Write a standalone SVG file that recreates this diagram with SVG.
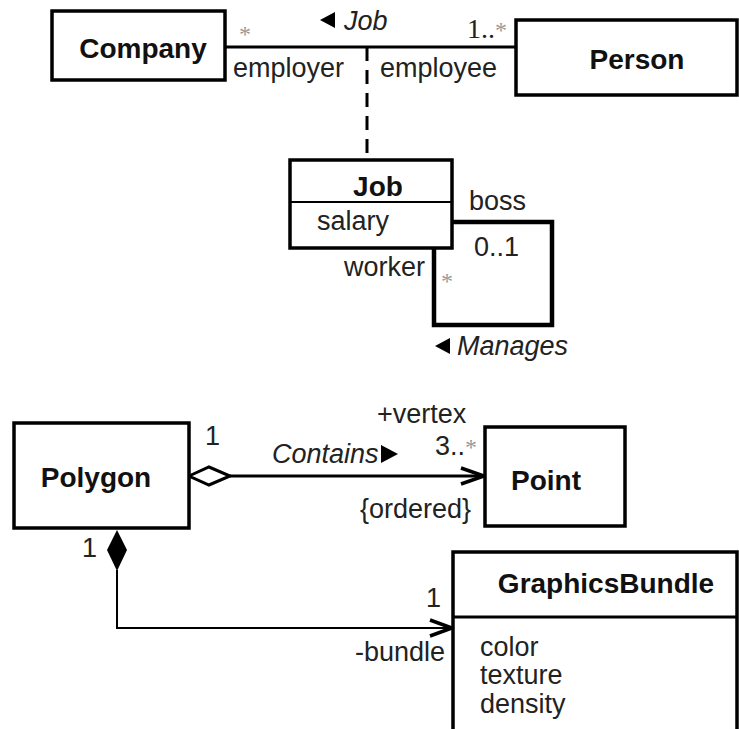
<svg xmlns="http://www.w3.org/2000/svg" width="739" height="729" viewBox="0 0 739 729">
  <style>
    .box { fill: #fff; stroke: #000; stroke-width: 3.5; }
    .cls { font-family: "Liberation Sans", Arial, sans-serif; font-size: 28px; font-weight: bold; fill: #111; }
    .lbl { font-family: "Liberation Sans", Arial, sans-serif; font-size: 27px; fill: #222; }
    .ital { font-style: italic; }
    .star { font-family: "Liberation Serif", "Times New Roman", serif; font-size: 24px; fill: #999; }
    .ser { font-family: "Liberation Serif", "Times New Roman", serif; font-size: 28px; fill: #222; }
    .line { fill: none; stroke: #000; stroke-width: 3; }
    .thin { fill: none; stroke: #000; stroke-width: 2; }
  </style>
  <rect width="739" height="729" fill="#fff"/>

  <!-- connectors -->
  <g id="connectors">
    <!-- Job association Company - Person -->
    <line class="line" x1="225" y1="47" x2="516" y2="47"/>
    <!-- association class link -->
    <line class="line" x1="367" y1="47" x2="367" y2="160" stroke-dasharray="14 9"/>
    <!-- Manages self association -->
    <path d="M452,222 H552 V325 H434 V248" fill="none" stroke="#000" stroke-width="4.5"/>
    <!-- Contains aggregation -->
    <line class="line" x1="230" y1="476" x2="485" y2="476"/>
    <polygon points="189,476 209,467 230,476 209,485" fill="#fff" stroke="#000" stroke-width="3"/>
    <polyline points="461,468 484,476 461,484" fill="none" stroke="#000" stroke-width="3.5"/>
    <!-- bundle composition -->
    <polyline class="thin" points="117,570 117,628 453,628"/>
    <polygon points="117,530 127,550 117,571 107,550" fill="#000"/>
    <polyline points="430,620 452,628 430,636" fill="none" stroke="#000" stroke-width="3.5"/>
  </g>

  <g id="company">
    <rect class="box" x="52" y="11" width="173" height="69"/>
    <text class="cls" x="143" y="58" text-anchor="middle">Company</text>
  </g>

  <g id="person">
    <rect class="box" x="516" y="20" width="221" height="75"/>
    <text class="cls" x="637" y="69" text-anchor="middle">Person</text>
  </g>

  <g id="job">
    <rect class="box" x="290" y="160" width="162" height="88"/>
    <line x1="290" y1="202" x2="452" y2="202" stroke="#000" stroke-width="2"/>
    <text class="cls" x="378" y="196" text-anchor="middle">Job</text>
    <text class="lbl" x="317" y="230">salary</text>
  </g>

  <g id="polygon">
    <rect class="box" x="14" y="423" width="175" height="105"/>
    <text class="cls" x="96" y="487" text-anchor="middle">Polygon</text>
  </g>

  <g id="point">
    <rect class="box" x="485" y="427" width="140" height="99"/>
    <text class="cls" x="546" y="490" text-anchor="middle">Point</text>
  </g>

  <g id="graphicsbundle">
    <rect class="box" x="453" y="552" width="284" height="190"/>
    <line x1="453" y1="617" x2="737" y2="617" stroke="#000" stroke-width="3"/>
    <text class="cls" x="606" y="593" text-anchor="middle">GraphicsBundle</text>
    <text class="lbl" x="480" y="656">color</text>
    <text class="lbl" x="480" y="684">texture</text>
    <text class="lbl" x="480" y="713">density</text>
  </g>

  <!-- association labels -->
  <g id="labels">
    <text class="star" x="239" y="42">*</text>
    <polygon points="320,20 335,12 335,28" fill="#000"/>
    <text class="lbl ital" x="344" y="30">Job</text>
    <text class="ser" x="467" y="38">1..<tspan class="star">*</tspan></text>
    <text class="lbl" x="233" y="77">employer</text>
    <text class="lbl" x="380" y="77">employee</text>

    <text class="lbl" x="469" y="210">boss</text>
    <text class="lbl" x="474" y="256">0..1</text>
    <text class="lbl" x="344" y="276">worker</text>
    <text class="star" x="441" y="289">*</text>
    <polygon points="435,346 450,338 450,354" fill="#000"/>
    <text class="lbl ital" x="457" y="355">Manages</text>

    <text class="lbl" x="205" y="445">1</text>
    <text class="lbl" x="377" y="423">+vertex</text>
    <text class="lbl" x="435" y="455">3..<tspan class="star">*</tspan></text>
    <text class="lbl ital" x="272" y="463">Contains</text>
    <polygon points="381,445 398,454 381,463" fill="#000"/>
    <text class="lbl" x="360" y="518">{ordered}</text>

    <text class="lbl" x="82" y="557">1</text>
    <text class="lbl" x="426" y="607">1</text>
    <text class="lbl" x="355" y="661">-bundle</text>
  </g>
</svg>
